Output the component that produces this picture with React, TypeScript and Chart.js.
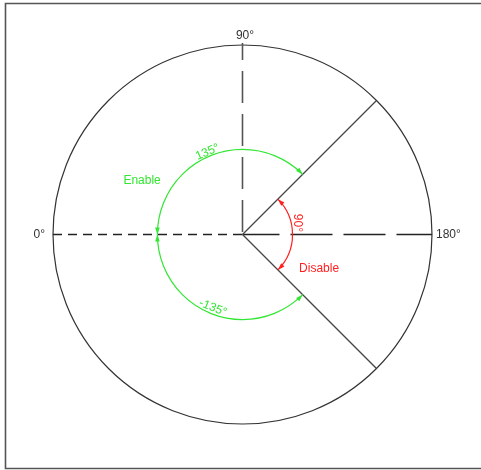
import React, { useEffect, useRef } from "react";
import { Chart, registerables } from "chart.js";

Chart.register(...registerables);

// Diagram angles: 0° at left, 90° at top, 180° at right (degrees)
const axisLabels = ["0°", "90°", "180°"];
const axisAngles = [0, 90, 180];
const rayAngles = [135, -135];
const enableArcStarts = [0, 0];
const enableArcEnds = [135, -135];
const enableArcLabels = ["135°", "-135°"];
const disableArcStart = 135;
const disableArcEnd = 225;
const disableArcLabel = "90°";
const zoneLabels = ["Enable", "Disable"];
const outerRadius = 1;
const enableRadius = 0.449;
const disableRadius = 0.264;

const GREEN = "#33e633";
const RED = "#ff1f1f";
const FONT = '12px "Liberation Sans", Arial, sans-serif';

const drawPlugin = {
  id: "diagram",
  afterDraw(chart: any) {
    const ctx: CanvasRenderingContext2D = chart.ctx;
    const xs = chart.scales.x;
    const ys = chart.scales.y;
    const px = (v: number) => xs.getPixelForValue(v);
    const py = (v: number) => ys.getPixelForValue(v);
    const cx = px(0);
    const cy = py(0);
    const rad = (r: number) => px(r) - cx;
    const phi = (d: number) => Math.PI + (d * Math.PI) / 180; // canvas angle
    const pt = (d: number, r: number) => [
      cx + rad(r) * Math.cos(phi(d)),
      cy + rad(r) * Math.sin(phi(d)),
    ];

    ctx.save();
    // frame
    ctx.strokeStyle = "#555";
    ctx.lineWidth = 1.6;
    ctx.beginPath();
    ctx.moveTo(chart.width + 5, 3.5);
    ctx.lineTo(5.5, 3.5);
    ctx.lineTo(5.5, 468.5);
    ctx.lineTo(chart.width + 5, 468.5);
    ctx.stroke();

    // outer circle
    ctx.strokeStyle = "#333";
    ctx.lineWidth = 1.2;
    ctx.beginPath();
    ctx.arc(cx, cy, rad(outerRadius), 0, Math.PI * 2);
    ctx.stroke();

    // dashed reference lines
    ctx.strokeStyle = "#222";
    ctx.lineWidth = 1.3;
    // left horizontal (0°)
    {
      const [x0, y0] = pt(axisAngles[0], outerRadius);
      ctx.setLineDash([9, 6]);
      ctx.lineDashOffset = 0;
      ctx.beginPath();
      ctx.moveTo(x0, y0);
      ctx.lineTo(cx, cy);
      ctx.stroke();
    }
    // vertical (90°)
    {
      const [x0, y0] = pt(axisAngles[1], outerRadius);
      ctx.strokeStyle = "#555";
      ctx.lineWidth = 1.6;
      ctx.setLineDash([32, 11]);
      ctx.lineDashOffset = 15;
      ctx.beginPath();
      ctx.moveTo(x0, y0 - 2);
      ctx.lineTo(cx, cy);
      ctx.stroke();
    }
    // right horizontal (180°)
    {
      const [x0, y0] = pt(axisAngles[2], outerRadius);
      ctx.strokeStyle = "#222";
      ctx.lineWidth = 1.3;
      ctx.setLineDash([42, 11]);
      ctx.lineDashOffset = 5;
      ctx.beginPath();
      ctx.moveTo(cx, cy);
      ctx.lineTo(x0, y0);
      ctx.stroke();
    }
    ctx.setLineDash([]);
    ctx.lineDashOffset = 0;

    // rays
    ctx.strokeStyle = "#444";
    ctx.lineWidth = 1.3;
    rayAngles.forEach((d) => {
      const [x1, y1] = pt(d, outerRadius);
      ctx.beginPath();
      ctx.moveTo(cx, cy);
      ctx.lineTo(x1, y1);
      ctx.stroke();
    });

    const arrow = (d: number, r: number, dir: number, color: string) => {
      // dir: +1 if arc travels with increasing canvas angle at this end
      const a = phi(d);
      const [tx, ty] = pt(d, r);
      const ux = -Math.sin(a) * dir;
      const uy = Math.cos(a) * dir;
      const len = 7;
      const hw = 2.3;
      const bx = tx - ux * len;
      const by = ty - uy * len;
      ctx.fillStyle = color;
      ctx.beginPath();
      ctx.moveTo(tx, ty);
      ctx.lineTo(bx - uy * hw, by + ux * hw);
      ctx.lineTo(bx + uy * hw, by - ux * hw);
      ctx.closePath();
      ctx.fill();
    };

    const drawArc = (d0: number, d1: number, r: number, color: string) => {
      ctx.strokeStyle = color;
      ctx.lineWidth = 1.2;
      ctx.beginPath();
      ctx.arc(cx, cy, rad(r), phi(d0), phi(d1), d1 < d0);
      ctx.stroke();
      const s = d1 > d0 ? 1 : -1;
      arrow(d1, r, s, color);
      arrow(d0, r, -s, color);
    };

    enableArcStarts.forEach((d0, i) => drawArc(d0, enableArcEnds[i], enableRadius, GREEN));
    drawArc(disableArcStart, disableArcEnd, disableRadius, RED);

    const text = (
      s: string,
      x: number,
      y: number,
      color: string,
      align: CanvasTextAlign = "center",
      rot = 0
    ) => {
      ctx.save();
      ctx.translate(x, y);
      ctx.rotate((rot * Math.PI) / 180);
      ctx.font = FONT;
      ctx.fillStyle = color;
      ctx.textAlign = align;
      ctx.textBaseline = "middle";
      ctx.fillText(s, 0, 0);
      ctx.restore();
    };

    // axis labels
    text(axisLabels[0], px(-1.042), py(0), "#333", "right");
    text(axisLabels[1], px(0.013), py(1.047), "#333", "center");
    text(axisLabels[2], px(1.021), py(0), "#333", "left");

    // arc labels
    {
      const [x, y] = pt(67, 0.472);
      text(enableArcLabels[0], x, y, GREEN, "center", -23);
    }
    {
      const [x, y] = pt(-68, 0.417);
      text(enableArcLabels[1], x, y, GREEN, "center", 22);
    }
    {
      const [x, y] = pt(168, 0.294);
      text(disableArcLabel, x, y, RED, "center", 90);
    }
    text(zoneLabels[0], px(-0.53), py(0.282), GREEN, "center");
    text(zoneLabels[1], px(0.404), py(-0.182), RED, "center");

    ctx.restore();
  },
};

export default function App() {
  const ref = useRef<HTMLCanvasElement | null>(null);
  useEffect(() => {
    if (!ref.current) return;
    const chart = new Chart(ref.current, {
      type: "scatter",
      data: { datasets: [{ data: [], showLine: false }] },
      options: {
        animation: false,
        responsive: false,
        devicePixelRatio: 1,
        layout: { padding: 0 },
        plugins: { legend: { display: false }, tooltip: { enabled: false } },
        scales: {
          x: { type: "linear", min: -1.2797, max: 1.2586, display: false },
          y: { type: "linear", min: -1.2427, max: 1.2375, display: false },
        },
      },
      plugins: [drawPlugin],
    });
    return () => chart.destroy();
  }, []);
  return (
    <div style={{ position: "absolute", left: 0, top: 0, width: 481, height: 470, background: "#fff" }}>
      <canvas ref={ref} width={481} height={470} style={{ width: 481, height: 470 }} />
    </div>
  );
}
